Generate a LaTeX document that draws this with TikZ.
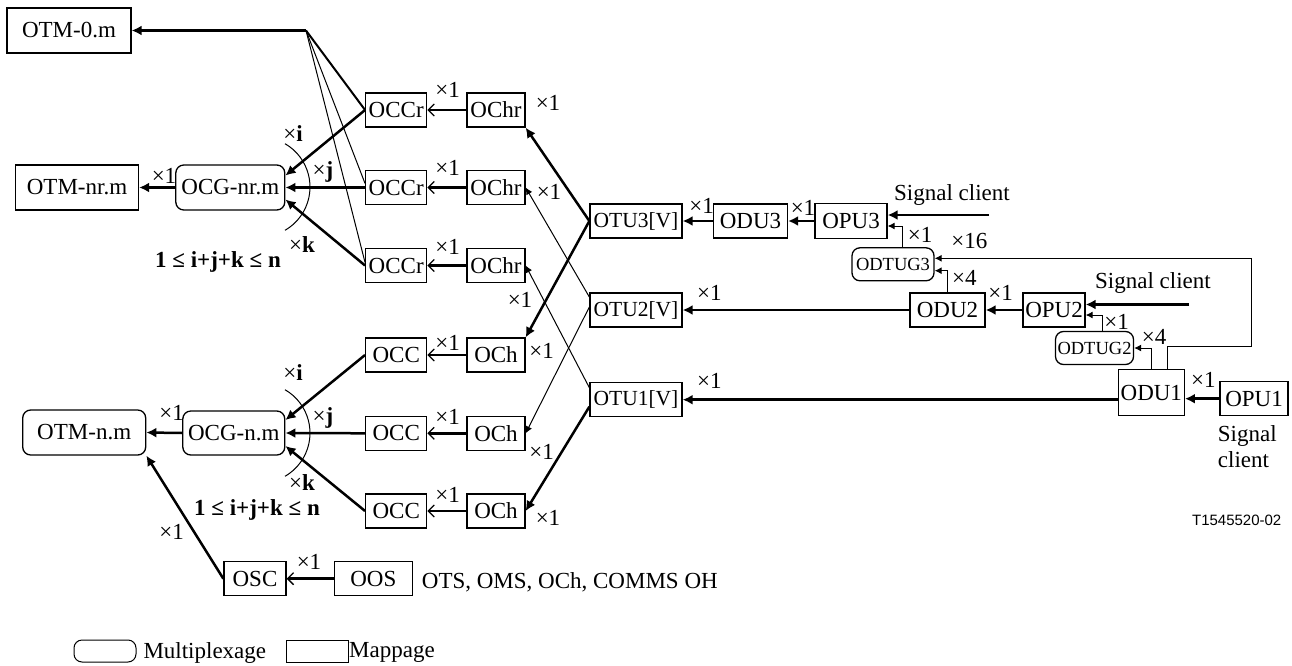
\documentclass[tikz,border=0pt]{standalone}
\usepackage{fontspec}
\setmainfont{Liberation Serif}
\newfontfamily\arialfont{Liberation Sans}
\usetikzlibrary{arrows.meta}
\tikzset{
 box/.style={draw, line width=1.3pt, inner sep=0pt, minimum height=34pt},
 mbox/.style={box, rounded corners=8pt},
 fa/.style={line width=2.5pt, -{Latex[length=10pt,width=10pt]}},
 ta/.style={line width=1pt, -{Latex[length=7pt,width=7pt]}},
 oa/.style={line width=2.5pt, -{Straight Barb[length=6pt,width=12pt,line width=1.3pt]}},
 thinl/.style={line width=1pt},
 thickl/.style={line width=2pt},
 small/.style={font=\fontsize{18.5}{21}\selectfont},
 otu/.style={font=\fontsize{21.5}{24}\selectfont},
}
\begin{document}
\begin{tikzpicture}[x=1pt,y=-1pt,font=\fontsize{23}{26}\selectfont]
\useasboundingbox (0,0) rectangle (1292,666);

% ---------- left upper group ----------
\node[box, minimum width=124pt, minimum height=45pt] (OTM0) at (69,30.5) {OTM-0.m};
\node[box, minimum width=123pt, minimum height=45pt] (OTMnr) at (77,187.5) {OTM-nr.m};
\node[mbox, minimum width=109pt, minimum height=45pt] (OCGnr) at (230.3,187.5) {OCG-nr.m};
\node[box, minimum width=61pt] (OCCr1) at (396.2,110) {OCCr};
\node[box, minimum width=58pt] (OChr1) at (496,110) {OChr};
\node[box, minimum width=61pt] (OCCr2) at (396.2,187.5) {OCCr};
\node[box, minimum width=58pt] (OChr2) at (496,187.5) {OChr};
\node[box, minimum width=61pt] (OCCr3) at (396.2,265.5) {OCCr};
\node[box, minimum width=58pt] (OChr3) at (496,265.5) {OChr};

\coordinate (J) at (306,30.5);
\draw[fa] (J) -- (OTM0.east);
\draw[thickl] (OCCr1.west) -- (J);
\draw[thinl] ([yshift=4pt]OCCr2.west) -- (J);
\draw[thinl] ([yshift=3pt]OCCr3.west) -- (J);
\draw[fa] (OCCr1.west) -- ([yshift=12pt]OCGnr.east);
\draw[fa] (OCCr2.west) -- (OCGnr.east);
\draw[fa] (OCCr3.west) -- ([yshift=-12pt]OCGnr.east);
\draw[fa] (OCGnr.west) -- (OTMnr.east);
\draw[oa] (OChr1) -- (OCCr1);
\draw[oa] (OChr2) -- (OCCr2);
\draw[oa] (OChr3) -- (OCCr3);
\draw[thinl] (285,143.7) arc[start angle=-60,end angle=60,radius=50];

\node (u1) at (447.7,90) {×1};
\node (u2) at (447.7,168) {×1};
\node (u3) at (447.7,247) {×1};
\node (u4) at (164,176) {×1};
\node (ui) at (293,134) {×\textbf{i}};
\node (uj) at (323,172) {×\textbf{j}};
\node (uk) at (302,245) {×\textbf{k}};
\node (ucond) at (218,262) {\textbf{1 ≤ i+j+k ≤ n}};

% ---------- left lower group ----------
\node[mbox, minimum width=123pt, minimum height=45pt] (OTMn) at (84.2,432.5) {OTM-n.m};
\node[mbox, minimum width=102pt, minimum height=44pt] (OCGn) at (233.8,433) {OCG-n.m};
\node[box, minimum width=61pt] (OCC1) at (396.2,355) {OCC};
\node[box, minimum width=58pt] (OCh1) at (496,355) {OCh};
\node[box, minimum width=61pt] (OCC2) at (396.2,433.3) {OCC};
\node[box, minimum width=58pt] (OCh2) at (496,433.3) {OCh};
\node[box, minimum width=61pt] (OCC3) at (396.2,511) {OCC};
\node[box, minimum width=58pt] (OCh3) at (496,511) {OCh};
\node[box, minimum width=62pt] (OSC) at (255,578.7) {OSC};
\node[box, minimum width=78pt] (OOS) at (373.3,578.7) {OOS};

\draw[fa] (OCC1.west) -- ([yshift=13pt]OCGn.east);
\draw[fa] (OCC2.west) -- (OCGn.east);
\draw[fa] (OCC3.west) -- ([yshift=-13pt]OCGn.east);
\draw[fa] (OCGn.west) -- (OTMn.east);
\draw[oa] (OCh1) -- (OCC1);
\draw[oa] (OCh2) -- (OCC2);
\draw[oa] (OCh3) -- (OCC3);
\draw[oa] (OOS) -- (OSC);
\draw[fa] (OSC.west) -- (OTMn.south east);
\draw[thinl] (285,389.7) arc[start angle=-60,end angle=60,radius=50];

\node (d1) at (447.7,343) {×1};
\node (d2) at (447.7,417) {×1};
\node (d3) at (447.7,495) {×1};
\node (d4) at (171.7,413) {×1};
\node (di) at (293,373) {×\textbf{i}};
\node (dj) at (323,418) {×\textbf{j}};
\node (dk) at (302,483) {×\textbf{k}};
\node (dcond) at (257,510) {\textbf{1 ≤ i+j+k ≤ n}};
\node (d5) at (171.7,532) {×1};
\node (d6) at (309,562) {×1};
\node[anchor=west, inner sep=0pt] (ots) at (421.7,582) {OTS, OMS, OCh, COMMS OH};

% ---------- OTU column ----------
\node[box, otu, minimum width=92pt] (OTU3) at (636,221) {OTU3[V]};
\node[box, otu, minimum width=92pt] (OTU2) at (636,310) {OTU2[V]};
\node[box, otu, minimum width=92pt] (OTU1) at (636,399.7) {OTU1[V]};

\draw[fa] (OTU3.west) -- (OChr1.south east);
\draw[fa] (OTU3.west) -- (OCh1.north east);
\draw[ta] ([yshift=13pt]OTU2.west) -- (OChr2.east);
\draw[ta] ([yshift=3pt]OTU2.west) -- (OCh2.east);
\draw[ta] ([yshift=12pt]OTU1.west) -- (OChr3.east);
\draw[fa] ([yshift=-7pt]OTU1.west) -- (OCh3.east);

\node (m1) at (548,103) {×1};
\node (m2) at (549,192) {×1};
\node (m3) at (520,300) {×1};
\node (m4) at (541.7,351) {×1};
\node (m5) at (541.7,452) {×1};
\node (m6) at (548,518) {×1};

% ---------- right side ----------
\node[box, minimum width=74pt] (ODU3) at (750.5,221) {ODU3};
\node[box, minimum width=72pt, minimum height=35pt] (OPU3) at (851,221) {OPU3};
\node[mbox, small, minimum width=82pt, minimum height=33pt] (ODTUG3) at (893,264.3) {ODTUG3};
\node[box, minimum width=75pt] (ODU2) at (947.5,310) {ODU2};
\node[box, minimum width=62pt] (OPU2) at (1054,310) {OPU2};
\node[mbox, small, minimum width=78pt, minimum height=33pt] (ODTUG2) at (1094.5,348) {ODTUG2};
\node[box, minimum width=66pt, minimum height=46pt] (ODU1) at (1151.3,392.8) {ODU1};
\node[box, minimum width=68pt] (OPU1) at (1254,398.7) {OPU1};

\draw[fa] (ODU3) -- (OTU3);
\draw[fa] (OPU3) -- (ODU3);
\draw[fa] (ODU2) -- (OTU2);
\draw[fa] (OPU2) -- (ODU2);
\draw[fa] (ODU1.west |- OTU1) -- (OTU1.east);
\draw[fa] (OPU1.west) -- (ODU1.east |- OPU1.west);

\coordinate (sc3) at (989,215);
\draw[fa] (sc3) -- (OPU3.east |- sc3);
\coordinate (sc2) at (1189,304.5);
\draw[fa] (sc2) -- (OPU2.east |- sc2);

\draw[ta] ([xshift=9pt]ODTUG3.north) |- ([yshift=-5pt]OPU3.east);
\draw[ta] (ODU2.north) |- ([yshift=-6.4pt]ODTUG3.east);
\coordinate (bend) at (1251.7,346.7);
\draw[ta] ([xshift=16pt]ODU1.north) |- (bend) |- ([yshift=6pt]ODTUG3.east);
\draw[ta] ([xshift=8.2pt]ODTUG2.north) |- ([yshift=-5pt]OPU2.east);
\draw[ta] (ODU1.north) |- (ODTUG2.east);

\node (r1) at (701.7,206) {×1};
\node (r2) at (803,208) {×1};
\node (sig1) at (952,195) {Signal client};
\node (r3) at (920,235) {×1};
\node (r4) at (969.3,240.7) {×16};
\node (r5) at (964.3,277.7) {×4};
\node (r6) at (1000.7,292.7) {×1};
\node (sig2) at (1153,283) {Signal client};
\node (r7) at (1116.7,321.7) {×1};
\node (r8) at (1154,336.7) {×4};
\node (r9) at (1203.3,380) {×1};
\node[anchor=west, inner sep=0pt, align=left] (sig3) at (1217.7,447) {Signal\\client};
\node (r10) at (709.3,293.3) {×1};
\node (r11) at (709.3,380.7) {×1};
\node[font=\arialfont\fontsize{15}{18}\selectfont] (ref) at (1236.7,520) {T1545520-02};

% ---------- legend ----------
\node[mbox, line width=1pt, minimum width=62pt, minimum height=22pt] (lgm) at (105,651) {};
\node[anchor=west, inner sep=0pt] (lgmt) at (143.3,652.7) {Multiplexage};
\node[box, line width=1pt, minimum width=62pt, minimum height=22pt] (lgp) at (317,651) {};
\node[anchor=west, inner sep=0pt] (lgpt) at (349,652.7) {Mappage};
\end{tikzpicture}
\end{document}
